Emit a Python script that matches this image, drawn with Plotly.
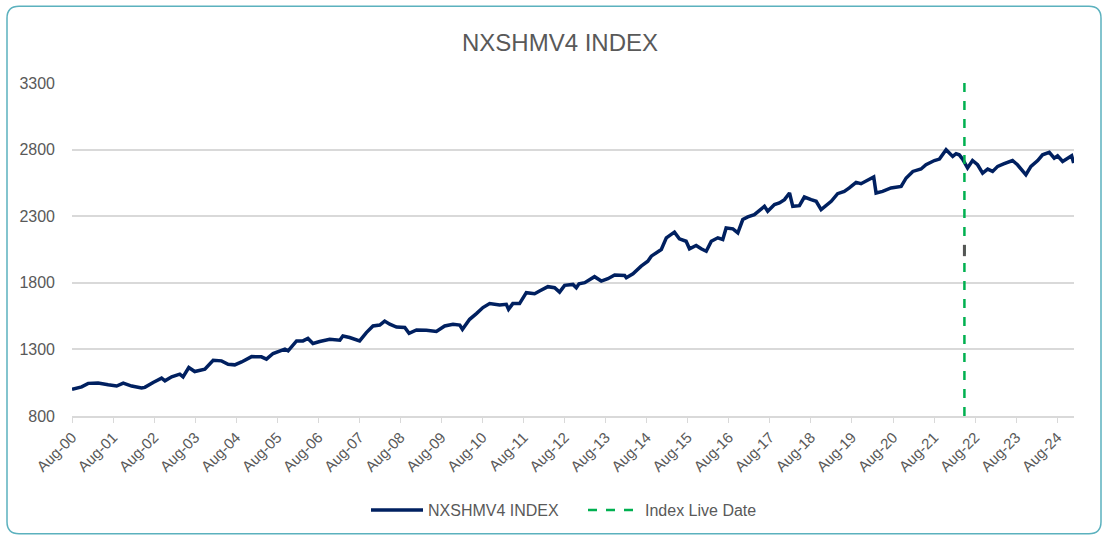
import plotly.graph_objects as go

# ---- data ----
dates = [
    "2000-08-01", "2000-10-26", "2000-12-23", "2001-03-21", "2001-06-19", "2001-09-02",
    "2001-10-31", "2002-01-14", "2002-04-12", "2002-05-11", "2002-07-24", "2002-10-07",
    "2002-11-06", "2003-01-05", "2003-03-18", "2003-04-16", "2003-06-06", "2003-07-29",
    "2003-10-27", "2004-01-09", "2004-03-23", "2004-05-21", "2004-07-19", "2004-09-18",
    "2004-12-16", "2005-03-13", "2005-04-27", "2005-06-25", "2005-10-08", "2005-11-06",
    "2006-01-20", "2006-03-18", "2006-05-01", "2006-06-15", "2006-08-14", "2006-11-11",
    "2007-02-09", "2007-03-08", "2007-05-07", "2007-08-04", "2007-10-03", "2007-12-01",
    "2008-01-30", "2008-03-14", "2008-04-28", "2008-06-27", "2008-09-09", "2008-10-17",
    "2008-12-22", "2009-03-20", "2009-06-17", "2009-08-30", "2009-11-12", "2010-01-11",
    "2010-02-04", "2010-04-09", "2010-06-08", "2010-08-05", "2010-10-04", "2011-01-01",
    "2011-03-01", "2011-03-21", "2011-04-28", "2011-06-27", "2011-08-26", "2011-11-08",
    "2011-12-22", "2012-03-05", "2012-05-04", "2012-06-17", "2012-08-01", "2012-10-14",
    "2012-11-13", "2012-12-07", "2013-01-27", "2013-04-24", "2013-06-23", "2013-08-21",
    "2013-10-20", "2014-01-17", "2014-02-01", "2014-04-01", "2014-06-13", "2014-08-11",
    "2014-09-11", "2014-10-25", "2014-12-09", "2015-01-23", "2015-04-05", "2015-05-19",
    "2015-07-18", "2015-08-17", "2015-10-15", "2015-11-29", "2016-01-13", "2016-02-27",
    "2016-04-25", "2016-06-08", "2016-07-08", "2016-09-06", "2016-10-20", "2016-12-03",
    "2017-01-17", "2017-03-16", "2017-05-15", "2017-06-14", "2017-07-13", "2017-09-11",
    "2017-10-25", "2017-12-09", "2018-01-23", "2018-02-21", "2018-04-21", "2018-06-04",
    "2018-08-03", "2018-09-17", "2018-10-31", "2018-12-29", "2019-01-29", "2019-03-27",
    "2019-05-25", "2019-07-09", "2019-09-07", "2019-10-21", "2019-12-19", "2020-02-11",
    "2020-03-03", "2020-04-30", "2020-07-14", "2020-10-12", "2020-11-26", "2021-01-24",
    "2021-04-07", "2021-05-21", "2021-08-04", "2021-09-18", "2021-11-16", "2021-12-15",
    "2022-01-14", "2022-02-13", "2022-03-13", "2022-04-12", "2022-05-26", "2022-07-09",
    "2022-08-23", "2022-10-07", "2022-11-21", "2023-01-04", "2023-02-18", "2023-04-17",
    "2023-06-30", "2023-08-13", "2023-10-27", "2023-12-11", "2024-02-09", "2024-03-23",
    "2024-05-22", "2024-07-05", "2024-08-04", "2024-09-18", "2024-11-01", "2024-12-07",
    "2024-12-25",
]
index_values = [
    1000, 1019, 1045, 1047, 1034, 1025,
    1047, 1025, 1010, 1015, 1052, 1084,
    1064, 1094, 1114, 1094, 1164, 1134,
    1152, 1219, 1214, 1189, 1184, 1206,
    1246, 1244, 1227, 1269, 1302, 1289,
    1364, 1364, 1382, 1344, 1359, 1376,
    1369, 1401, 1389, 1364, 1426, 1476,
    1483, 1513, 1489, 1468, 1464, 1421,
    1446, 1444, 1434, 1476, 1489, 1483,
    1451, 1526, 1569, 1614, 1644, 1633,
    1638, 1601, 1644, 1644, 1726, 1718,
    1738, 1771, 1763, 1730, 1781, 1788,
    1763, 1793, 1801, 1846, 1813, 1831,
    1858, 1855, 1838, 1868, 1925, 1962,
    2000, 2025, 2050, 2138, 2180, 2130,
    2112, 2055, 2080, 2055, 2037, 2112,
    2138, 2125, 2212, 2205, 2175, 2275,
    2295, 2312, 2349, 2374, 2337, 2387,
    2400, 2424, 2474, 2374, 2379, 2444,
    2424, 2412, 2349, 2387, 2412, 2469,
    2486, 2512, 2554, 2544, 2569, 2594,
    2474, 2486, 2512, 2524, 2587, 2636,
    2654, 2686, 2718, 2729, 2799, 2774,
    2749, 2769, 2761, 2729, 2662, 2718,
    2686, 2624, 2654, 2636, 2674, 2694,
    2718, 2686, 2611, 2674, 2718, 2761,
    2779, 2736, 2754, 2711, 2736, 2754,
    2699,
]
live_date = "2022-04-28"
live_line_y = [800, 3300]
marker_y = [2000, 2085]

series_name = "NXSHMV4 INDEX"
live_name = "Index Live Date"
title_text = "NXSHMV4 INDEX"
y_ticks = [800, 1300, 1800, 2300, 2800, 3300]
x_start, x_end = "2000-08-01", "2024-12-28"

FONT = "Liberation Sans Narrow, Arial Narrow, Liberation Sans, Arial, sans-serif"
GREY = "#595959"

fig = go.Figure()
fig.add_trace(go.Scatter(
    x=dates, y=index_values, mode="lines", name=series_name,
    line=dict(color="#002060", width=3.5),
))
fig.add_trace(go.Scatter(
    x=[live_date, live_date], y=live_line_y, mode="lines", name=live_name,
    line=dict(color="#00B050", width=2.5, dash="dash"),
))

# small grey mark next to the live-date line
fig.add_shape(type="line", xref="x", yref="y",
              x0=live_date, x1=live_date, y0=marker_y[0], y1=marker_y[1],
              line=dict(color="#555555", width=3), layer="above")

# rounded teal frame around the chart (paper coords from pixel layout)
L, T, W, H = 72, 83, 1002, 334
def px(xp): return (xp - L) / W
def py(yp): return (T + H - yp) / H
x0, x1, y0, y1, r = 7, 1101, 6, 535, 12
path = (f"M {px(x0 + r)},{py(y0)} L {px(x1 - r)},{py(y0)} "
        f"Q {px(x1)},{py(y0)} {px(x1)},{py(y0 + r)} "
        f"L {px(x1)},{py(y1 - r)} Q {px(x1)},{py(y1)} {px(x1 - r)},{py(y1)} "
        f"L {px(x0 + r)},{py(y1)} Q {px(x0)},{py(y1)} {px(x0)},{py(y1 - r)} "
        f"L {px(x0)},{py(y0 + r)} Q {px(x0)},{py(y0)} {px(x0 + r)},{py(y0)} Z")
fig.add_shape(type="path", xref="paper", yref="paper", path=path,
              line=dict(color="#5BB1BE", width=1.5), layer="below")

fig.update_layout(
    width=1105, height=538,
    margin=dict(l=L, r=1105 - L - W, t=T, b=538 - T - H),
    paper_bgcolor="white", plot_bgcolor="white",
    font=dict(family=FONT, color=GREY, size=15),
    title=dict(text=title_text, x=560 / 1105, xanchor="center", y=1 - 43 / 538, yanchor="middle",
               font=dict(family=FONT, size=24, color=GREY)),
    showlegend=True,
    legend=dict(orientation="h", x=px(366), xanchor="left", y=py(510), yanchor="middle",
                font=dict(family=FONT, size=16, color=GREY), itemwidth=52,
                entrywidth=150, entrywidthmode="pixels"),
    xaxis=dict(
        type="date", range=[x_start, x_end],
        tick0="2000-08-01", dtick="M12", tickformat="%b-%y", tickangle=-45,
        showgrid=False, showline=True, linecolor="#D9D9D9", linewidth=1.5,
        ticks="outside", ticklen=5, tickcolor="#D9D9D9",
        tickfont=dict(family=FONT, size=15, color=GREY), zeroline=False,
    ),
    yaxis=dict(
        range=[800, 3300], tickvals=y_ticks, showgrid=True, gridcolor="#D9D9D9",
        gridwidth=1.5, showline=False, zeroline=False, ticks="",
        tickfont=dict(family=FONT, size=16, color=GREY), ticklabelstandoff=16,
    ),
)

fig.write_html("out.html", config={"displayModeBar": False},
               post_script="document.body.style.margin='0';")
